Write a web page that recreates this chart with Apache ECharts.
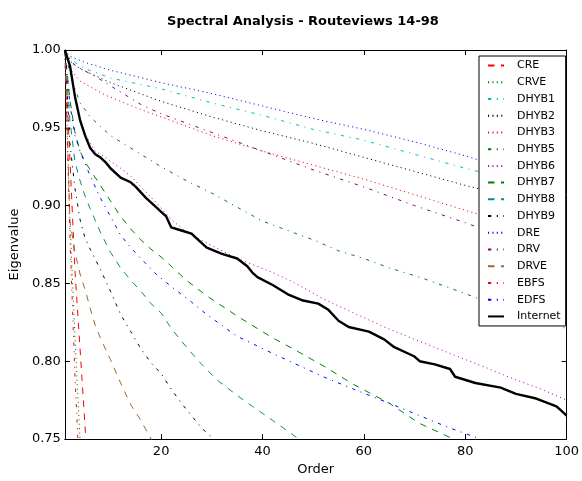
<!DOCTYPE html>
<html>
<head>
<meta charset="utf-8">
<script src="https://cdn.jsdelivr.net/npm/echarts@6/dist/echarts.min.js"></script>
<style>
  html, body { margin: 0; padding: 0; background: #fff; }
  #chart { width: 582px; height: 481px; }
</style>
</head>
<body>
<div id="chart"></div>
<script>
// tick positions on the order axis
const xTicks = [20, 40, 60, 80, 100];

// [order, eigenvalue]
const CRE   = [[1,1.0],[2,0.93],[3,0.858],[4,0.808],[5,0.757],[6,0.71]];
const CRVE  = [[1,1.0],[2,0.89],[3,0.815],[4,0.749],[5,0.70]];
const DHYB1 = [[1,1.0],[2,0.995],[3,0.992],[5,0.988],[10,0.982],[20,0.975],[30,0.966],[40,0.958],[50,0.949],[60,0.942],[70,0.933],[80,0.924],[90,0.916],[100,0.907]];
const DHYB2 = [[1,1.0],[2,0.993],[4,0.988],[10,0.979],[20,0.967],[30,0.957],[40,0.948],[50,0.940],[60,0.931],[70,0.922],[80,0.913],[90,0.905],[100,0.896]];
const DHYB3 = [[1,1.0],[2,0.988],[4,0.980],[9,0.971],[15,0.963],[20,0.957],[30,0.945],[40,0.935],[50,0.926],[60,0.917],[70,0.907],[80,0.897],[90,0.887],[100,0.878]];
const DHYB5 = [[1,1.0],[2,0.985],[3,0.975],[4,0.966],[6,0.957],[8,0.951],[10,0.945],[15,0.935],[20,0.925],[25,0.916],[30,0.908],[35,0.899],[40,0.890],[45,0.884],[50,0.878],[55,0.871],[60,0.866],[65,0.860],[71,0.854],[77,0.847],[82,0.841],[90,0.831],[100,0.821]];
const DHYB6 = [[1,1.0],[2,0.99],[3,0.97],[4,0.956],[5,0.946],[6,0.94],[7,0.935],[9,0.931],[12,0.924],[14,0.919],[16,0.912],[19,0.902],[22,0.891],[25,0.883],[29,0.876],[35,0.866],[42,0.857],[46,0.851],[52,0.840],[58,0.831],[64,0.822],[70,0.814],[77,0.805],[84,0.796],[90,0.788],[95,0.782],[100,0.775]];
const DHYB7 = [[1,1.0],[2,0.968],[3,0.947],[4,0.935],[5,0.928],[6,0.923],[8,0.913],[10,0.903],[12,0.893],[14,0.885],[16,0.878],[18,0.872],[20,0.867],[22,0.861],[25,0.852],[29,0.842],[35,0.829],[42,0.815],[46,0.808],[52,0.797],[58,0.785],[65,0.773],[71,0.760],[77,0.751],[78,0.748]];
const DHYB8 = [[1,1.0],[2,0.955],[3,0.928],[4,0.916],[5,0.906],[6,0.898],[8,0.883],[10,0.870],[12,0.860],[14,0.852],[16,0.845],[18,0.837],[20,0.831],[22,0.821],[25,0.809],[28,0.798],[31,0.788],[35,0.778],[38,0.771],[42,0.762],[45,0.755],[48,0.748]];
const DHYB9 = [[1,1.0],[2,0.94],[3,0.911],[4,0.891],[5,0.879],[6,0.872],[8,0.859],[10,0.845],[12,0.830],[14,0.819],[16,0.808],[18,0.799],[20,0.792],[22,0.782],[24,0.773],[26,0.765],[28,0.757],[30,0.751],[32,0.745]];
const DRE   = [[1,1.0],[2,0.996],[5,0.992],[10,0.987],[20,0.979],[30,0.972],[40,0.964],[50,0.956],[60,0.949],[70,0.941],[80,0.932],[90,0.922],[100,0.912]];
const DRV   = [[1,1.0],[2,0.994],[3,0.990],[7,0.983],[12,0.973],[16,0.965],[20,0.959],[25,0.953],[30,0.947],[40,0.935],[50,0.923],[60,0.912],[70,0.900],[80,0.889],[90,0.877],[100,0.866]];
const DRVE  = [[1,1.0],[2,0.89],[3,0.87],[4,0.856],[5,0.846],[6,0.834],[7,0.823],[8,0.815],[10,0.801],[12,0.786],[14,0.772],[16,0.762],[18,0.750],[19,0.744]];
const EBFS  = [[1,1.0],[2,0.88],[3,0.79],[4,0.72]];
const EDFS  = [[1,1.0],[2,0.965],[3,0.945],[4,0.935],[6,0.919],[8,0.905],[10,0.893],[12,0.881],[14,0.873],[16,0.866],[19,0.856],[22,0.848],[26,0.838],[29,0.830],[35,0.816],[42,0.805],[52,0.790],[58,0.782],[65,0.773],[71,0.765],[77,0.757],[83,0.750],[86,0.746]];
const Internet = [[1,1.0],[2,0.990],[3,0.970],[4,0.955],[5,0.945],[6,0.937],[7,0.933],[8,0.931],[9,0.928],[10,0.924],[12,0.918],[14,0.915],[15,0.912],[17,0.905],[19,0.899],[20,0.896],[21,0.893],[22,0.886],[24,0.884],[26,0.882],[27,0.879],[29,0.873],[32,0.869],[35,0.866],[37,0.861],[38,0.857],[39,0.854],[42,0.849],[45,0.843],[48,0.839],[51,0.837],[53,0.833],[55,0.826],[57,0.822],[61,0.819],[64,0.814],[66,0.809],[70,0.803],[71,0.800],[74,0.798],[77,0.795],[78,0.790],[82,0.786],[87,0.783],[90,0.779],[94,0.776],[98,0.771],[99,0.768],[100,0.765]];

const FONT = 'DejaVu Sans';
const DASHED = [6.5, 6.5];
const DOTTED = [1.1, 3.3];
const DASHDOT = [3.3, 5.5, 1.1, 5.5];

// name, data, colour, dash, width
const lines = [
  ['CRE', CRE, '#ff0000', DASHED, 1],
  ['CRVE', CRVE, '#008000', DOTTED, 1],
  ['DHYB1', DHYB1, '#00bfbf', DASHDOT, 1],
  ['DHYB2', DHYB2, '#000000', DOTTED, 1],
  ['DHYB3', DHYB3, '#ff0000', DOTTED, 1],
  ['DHYB5', DHYB5, '#008000', DASHDOT, 1],
  ['DHYB6', DHYB6, '#bf00bf', DOTTED, 1],
  ['DHYB7', DHYB7, '#008000', DASHED, 1],
  ['DHYB8', DHYB8, '#008b8b', DASHED, 1],
  ['DHYB9', DHYB9, '#000000', DASHDOT, 1],
  ['DRE', DRE, '#0000ff', DOTTED, 1],
  ['DRV', DRV, '#800080', DASHDOT, 1],
  ['DRVE', DRVE, '#a0652d', DASHED, 1],
  ['EBFS', EBFS, '#ff0000', DASHDOT, 1],
  ['EDFS', EDFS, '#0000ff', DASHDOT, 1],
  ['Internet', Internet, '#000000', 'solid', 2.4]
];

const chart = echarts.init(document.getElementById('chart'));

const axisLine = { show: true, onZero: false, lineStyle: { color: '#000', width: 1 } };
const tickStyle = { lineStyle: { color: '#000', width: 1 } };
const labelFont = { fontFamily: FONT, fontSize: 13, color: '#000' };

const option = {
  animation: false,
  backgroundColor: '#fff',
  title: {
    text: 'Spectral Analysis - Routeviews 14-98',
    left: 298,
    top: 10,
    textAlign: 'center',
    textStyle: { fontFamily: FONT, fontSize: 13, fontWeight: 'bold', color: '#000' }
  },
  grid: { left: 60, right: 12, top: 50, bottom: 38, containLabel: false },
  legend: {
    orient: 'vertical',
    left: 479,
    top: 56,
    padding: [4, 5, 4, 8],
    itemWidth: 16,
    itemHeight: 11,
    itemGap: 5.73,
    borderColor: '#000',
    borderWidth: 1,
    backgroundColor: '#fff',
    // hide the round marker, keep only the line sample
    itemStyle: { opacity: 0 },
    textStyle: { fontFamily: FONT, fontSize: 11, color: '#000', padding: [0, 0, 0, 8] },
    data: lines.map(l => l[0])
  },
  xAxis: [
    {
      type: 'value', min: 1, max: 100, position: 'bottom',
      axisLine: axisLine,
      axisTick: Object.assign({ inside: true, length: 5, customValues: xTicks }, tickStyle),
      axisLabel: Object.assign({ margin: 6, customValues: xTicks }, labelFont),
      splitLine: { show: false },
      name: 'Order', nameLocation: 'middle', nameGap: 24,
      nameTextStyle: labelFont
    },
    {
      type: 'value', min: 1, max: 100, position: 'top',
      axisLine: axisLine,
      axisTick: Object.assign({ inside: true, length: 5, customValues: xTicks }, tickStyle),
      axisLabel: { show: false },
      splitLine: { show: false }
    }
  ],
  yAxis: [
    {
      type: 'value', min: 0.75, max: 1.0, interval: 0.05, position: 'left',
      axisLine: axisLine,
      axisTick: Object.assign({ inside: true, length: 5 }, tickStyle),
      axisLabel: Object.assign({ margin: 4, formatter: v => v.toFixed(2) }, labelFont),
      splitLine: { show: false },
      name: 'Eigenvalue', nameLocation: 'middle', nameGap: 40, nameRotate: 90,
      nameTextStyle: labelFont
    },
    {
      type: 'value', min: 0.75, max: 1.0, interval: 0.05, position: 'right',
      axisLine: axisLine,
      axisTick: Object.assign({ inside: true, length: 5 }, tickStyle),
      axisLabel: { show: false },
      splitLine: { show: false }
    }
  ],
  series: lines.map(([name, data, color, dash, width]) => ({
    name: name,
    type: 'line',
    xAxisIndex: 0,
    yAxisIndex: 0,
    data: data,
    symbol: 'none',
    clip: true,
    itemStyle: { color: color },
    lineStyle: { color: color, width: width, type: dash }
  }))
};

chart.setOption(option);
</script>
</body>
</html>
